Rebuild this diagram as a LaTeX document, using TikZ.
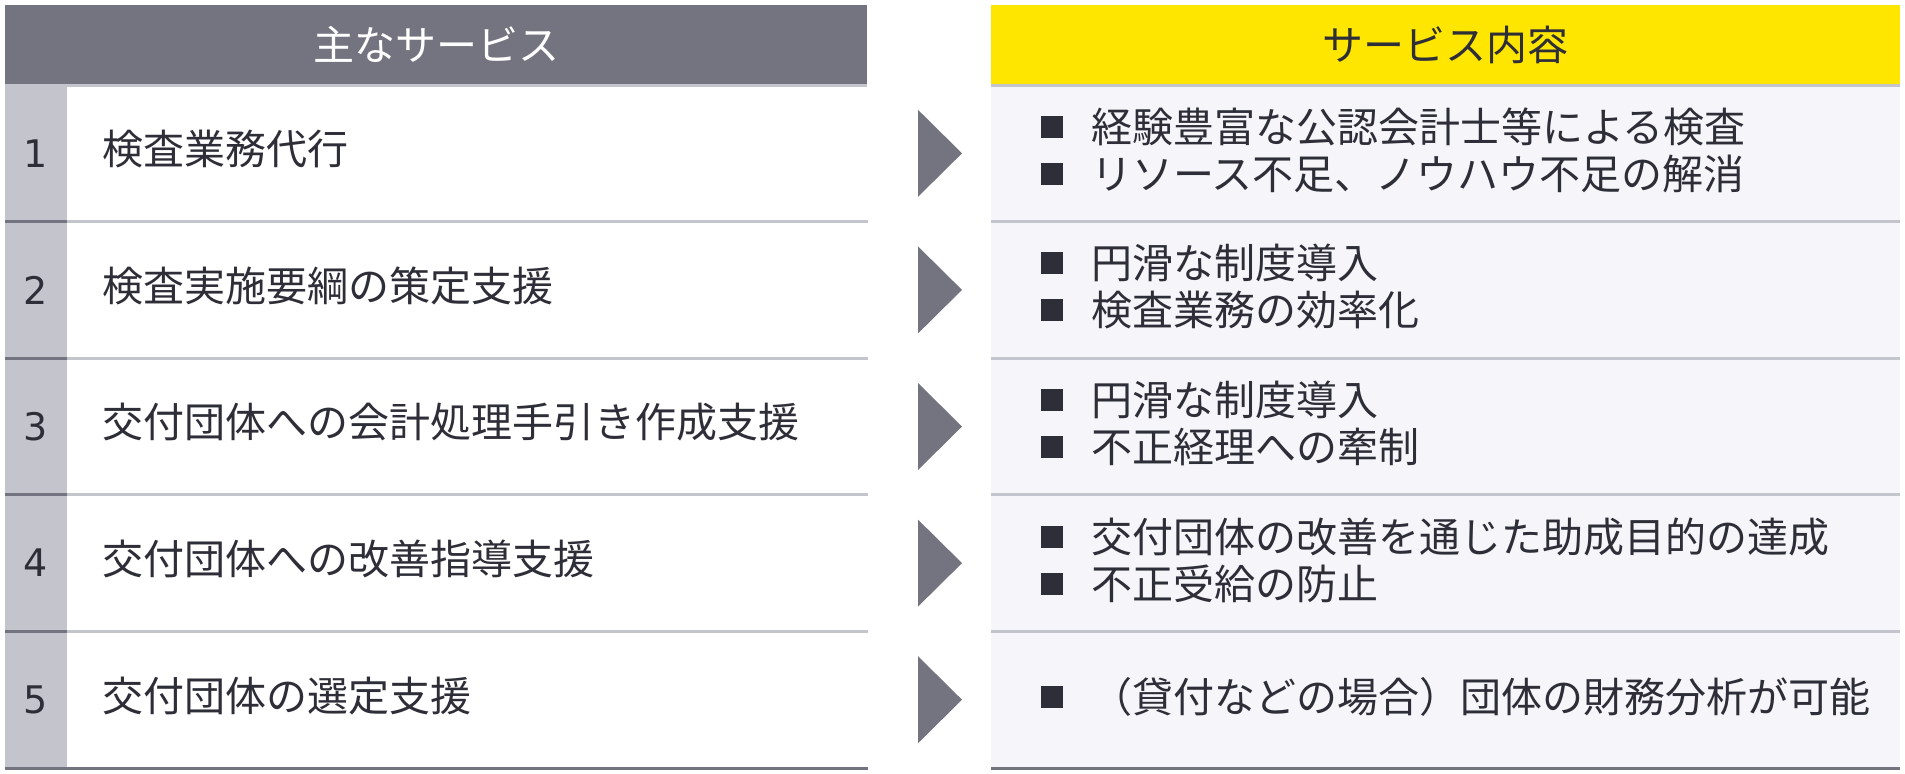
\documentclass[tikz,border=0pt]{standalone}
\usepackage{fontspec}
\setmainfont{Noto Sans CJK JP}
\newfontfamily\numfont{DejaVu Sans}
\usetikzlibrary{positioning,shapes.geometric}

\definecolor{eyGray}{HTML}{747480}
\definecolor{eyLight}{HTML}{C4C4CD}
\definecolor{eyPale}{HTML}{F6F6FA}
\definecolor{eyYellow}{HTML}{FFE600}
\definecolor{eyDark}{HTML}{2E2E38}

\newcommand{\sqbullet}{\textcolor{eyDark}{\rule[2.3pt]{11pt}{11pt}}\hspace{14pt}}

\begin{document}
\begin{tikzpicture}[x=0.5pt, y=-0.5pt,
    every node/.style={inner sep=0pt, outer sep=0pt, text=eyDark, font=\fontsize{20.5pt}{23.5pt}\selectfont},
    numCell/.style={fill=eyLight, minimum width=31pt, minimum height=68.3pt, font=\numfont\fontsize{19pt}{23pt}\selectfont},
    taskCell/.style={fill=white, minimum width=400.5pt, minimum height=68.3pt},
    meritCell/.style={fill=eyPale, minimum width=454.5pt, minimum height=68.3pt},
    arrowTri/.style={isosceles triangle, isosceles triangle stretches, fill=eyGray, minimum height=22pt, minimum width=43.5pt},
    sepLight/.style={eyLight, line width=1.5pt},
    sepDark/.style={eyGray, line width=1.5pt}
  ]
  \useasboundingbox (0,0) rectangle (1905,773);

  \node[fill=eyGray, minimum width=431pt, minimum height=40pt, text=white] (headLeft) at (436,45) {\raisebox{1.5pt}{主なサービス}};
  \node[fill=eyYellow, minimum width=454.5pt, minimum height=40pt] (headRight) at (1445.5,45) {\raisebox{1.5pt}{サービス内容}};

  \foreach \i/\task/\merit in {
      1/検査業務代行/{\sqbullet 経験豊富な公認会計士等による検査\\\sqbullet リソース不足、ノウハウ不足の解消},
      2/検査実施要綱の策定支援/{\sqbullet 円滑な制度導入\\\sqbullet 検査業務の効率化},
      3/交付団体への会計処理手引き作成支援/{\sqbullet 円滑な制度導入\\\sqbullet 不正経理への牽制},
      4/交付団体への改善指導支援/{\sqbullet 交付団体の改善を通じた助成目的の達成\\\sqbullet 不正受給の防止},
      5/交付団体の選定支援/{\sqbullet （貸付などの場合）団体の財務分析が可能}}
  {
    \pgfmathsetmacro{\rowY}{85+(\i-0.5)*136.6}
    \node[numCell] (num\i) at (35.5,\rowY) {\i};
    \node[taskCell, right=0pt of num\i] (task\i) {};
    \node[right=18pt of num\i, yshift=2pt] (taskText\i) {\task};
    \node[arrowTri, anchor=lower side] (arrow\i) at (918,\rowY) {};
    \node[meritCell] (merit\i) at (1445.5,\rowY) {};
    \node[right=25pt of merit\i.west, yshift=1.5pt, align=left] (meritText\i) {\merit};
  }

  % row borders
  \draw[sepLight] (headLeft.south west) -- (headLeft.south east);
  \draw[sepLight] (headRight.south west) -- (headRight.south east);
  \foreach \i in {1,...,4} {
    \draw[sepDark] (num\i.south west) -- (num\i.south east);
    \draw[sepLight] (task\i.south west) -- (task\i.south east);
    \draw[sepLight] (merit\i.south west) -- (merit\i.south east);
  }
  \draw[sepDark] (num5.south west) -- (task5.south east);
  \draw[sepDark] (merit5.south west) -- (merit5.south east);
\end{tikzpicture}
\end{document}
